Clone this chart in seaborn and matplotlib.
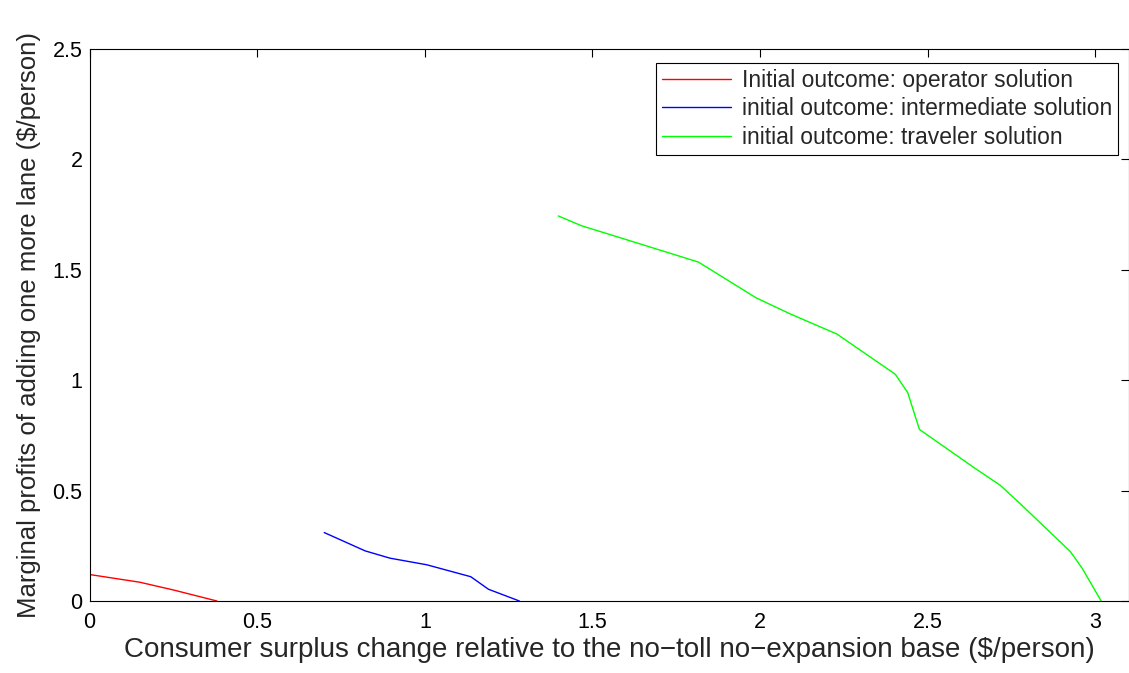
import matplotlib
matplotlib.use("Agg")
import matplotlib.pyplot as plt
import seaborn as sns
import pandas as pd

# ---- data ----
operator_x = [0.0, 0.15, 0.25, 0.38]
operator_y = [0.12, 0.085, 0.05, 0.0]

intermediate_x = [0.70, 0.822, 0.896, 1.006, 1.137, 1.19, 1.282]
intermediate_y = [0.31, 0.227, 0.194, 0.164, 0.11, 0.053, 0.0]

traveler_x = [1.398, 1.468, 1.543, 1.816, 1.988, 2.09, 2.229, 2.403, 2.44, 2.475,
              2.636, 2.716, 2.776, 2.925, 2.96, 3.017]
traveler_y = [1.744, 1.699, 1.664, 1.535, 1.373, 1.30, 1.209, 1.027, 0.944, 0.777,
              0.606, 0.524, 0.44, 0.224, 0.149, 0.0]

series_names = ["Initial outcome: operator solution",
                "initial outcome: intermediate solution",
                "initial outcome: traveler solution"]
series_colors = ["#ff0000", "#0000ff", "#00ff00"]

x_ticks = [0, 0.5, 1, 1.5, 2, 2.5, 3]
x_tick_labels = ["0", "0.5", "1", "1.5", "2", "2.5", "3"]
y_ticks = [0, 0.5, 1, 1.5, 2, 2.5]
y_tick_labels = ["0", "0.5", "1", "1.5", "2", "2.5"]

x_label = "Consumer surplus change relative to the no\u2212toll no\u2212expansion base ($/person)"
y_label = "Marginal profits of adding one more lane ($/person)"

# ---- build table ----
frames = []
for name, xs, ys in zip(series_names,
                        [operator_x, intermediate_x, traveler_x],
                        [operator_y, intermediate_y, traveler_y]):
    frames.append(pd.DataFrame({"x": xs, "y": ys, "series": name}))
df = pd.concat(frames, ignore_index=True)

sns.set_style("white")
plt.rcParams["font.family"] = ["Liberation Sans", "DejaVu Sans"]

fig = plt.figure(figsize=(11.29, 6.73), dpi=100)
ax = fig.add_axes([89.5 / 1129, 1 - 601 / 673, 1 - 89.5 / 1129, (601 - 49) / 673])

sns.lineplot(data=df, x="x", y="y", hue="series", hue_order=series_names,
             palette=dict(zip(series_names, series_colors)),
             sort=False, estimator=None, units="series", linewidth=1.0, ax=ax)

ax.set_xlim(0, 3.1)
ax.set_ylim(0, 2.5)
ax.set_xticks(x_ticks)
ax.set_xticklabels(x_tick_labels)
ax.set_yticks(y_ticks)
ax.set_yticklabels(y_tick_labels)
ax.tick_params(direction="in", length=6, width=0.8, top=True, right=True,
               labelsize=15.5, colors="black")
ax.tick_params(axis="x", pad=8)
ax.tick_params(axis="y", pad=5)
for s in ax.spines.values():
    s.set_visible(True)
    s.set_color("black")
    s.set_linewidth(0.8)

ax.set_xlabel(x_label, fontsize=20, labelpad=3)
ax.set_ylabel(y_label, fontsize=18.5, labelpad=8)

handles, labels = ax.get_legend_handles_labels()
leg = ax.legend(handles, labels, loc="upper right", bbox_to_anchor=(0.9894, 0.9746),
                fontsize=16.5, frameon=True, fancybox=False, framealpha=1,
                edgecolor="black", borderpad=0.25, labelspacing=0.25,
                handlelength=3.0, handletextpad=0.5, borderaxespad=0)
leg.get_frame().set_linewidth(0.8)

fig.savefig("out.png", dpi=100)
